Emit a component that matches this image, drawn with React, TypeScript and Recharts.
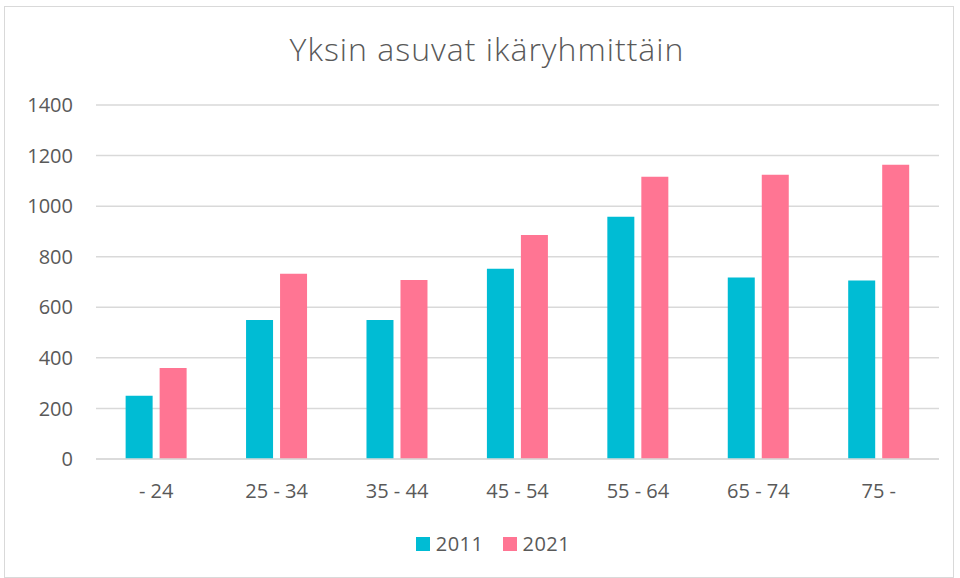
import React from "react";
import { BarChart, Bar, XAxis, YAxis, CartesianGrid, Legend } from "recharts";

const categories = ["- 24", "25 - 34", "35 - 44", "45 - 54", "55 - 64", "65 - 74", "75 -"];
const values2011 = [250, 550, 550, 752, 958, 718, 706];
const values2021 = [360, 733, 708, 886, 1116, 1124, 1164];
const yTicks = [0, 200, 400, 600, 800, 1000, 1200, 1400];
const seriesNames = ["2011", "2021"];
const seriesColors = ["#00BCD4", "#FF7593"];

const data = categories.map((c, i) => ({
  name: c,
  s2011: values2011[i],
  s2021: values2021[i],
}));

const FONT = "'Open Sans', sans-serif";
const TEXT = "#595959";

const LegendContent = () => (
  <div style={{ height: 20, display: "flex", justifyContent: "center", alignItems: "center", fontFamily: FONT, fontSize: 20, color: TEXT, lineHeight: "20px", paddingLeft: 26, boxSizing: "border-box" }}>
    {seriesNames.map((n, i) => (
      <div key={n} style={{ display: "flex", alignItems: "center", marginRight: i === 0 ? 19 : 0 }}>
        <span style={{ display: "inline-block", width: 14, height: 14, background: seriesColors[i], marginRight: 6 }} />
        <span style={{ letterSpacing: 0.5 }}>{n}</span>
      </div>
    ))}
  </div>
);

export default function App() {
  return (
    <div style={{ position: "absolute", left: 0, top: 0, width: 960, height: 578, background: "#fff" }}>
      <div style={{ position: "absolute", left: 4, top: 6, width: 950, height: 572, border: "1.5px solid #d9d9d9", boxSizing: "border-box" }} />
      <div style={{ position: "absolute", left: 7, top: 27, width: 960, textAlign: "center", fontFamily: FONT, fontWeight: 300, fontSize: 32, color: TEXT, lineHeight: "normal", letterSpacing: 1 }}>
        Yksin asuvat ikäryhmittäin
      </div>
      <div style={{ position: "absolute", left: 0, top: 0 }}>
        <BarChart
          width={960}
          height={578}
          data={data}
          margin={{ top: 105, right: 21, left: 0, bottom: 69 }}
          barCategoryGap="24.6%"
          barGap={7}
        >
          <CartesianGrid vertical={false} stroke="#d9d9d9" strokeWidth={1.5} />
          <XAxis
            dataKey="name"
            height={30}
            tickLine={false}
            tickSize={0}
            tickMargin={25}
            axisLine={{ stroke: "#d9d9d9", strokeWidth: 1.5 }}
            tick={{ fill: TEXT, fontSize: 20, fontFamily: FONT }}
            interval={0}
          />
          <YAxis
            width={96}
            domain={[0, 1400]}
            ticks={yTicks}
            axisLine={false}
            tickLine={false}
            tickSize={0}
            tickMargin={23}
            tick={{ fill: TEXT, fontSize: 20, fontFamily: FONT }}
          />
          <Legend
            content={<LegendContent />}
            wrapperStyle={{ position: "absolute", left: 0, top: 534, width: 960 }}
          />
          <Bar dataKey="s2011" name="2011" fill={seriesColors[0]} isAnimationActive={false} />
          <Bar dataKey="s2021" name="2021" fill={seriesColors[1]} isAnimationActive={false} />
        </BarChart>
      </div>
    </div>
  );
}
